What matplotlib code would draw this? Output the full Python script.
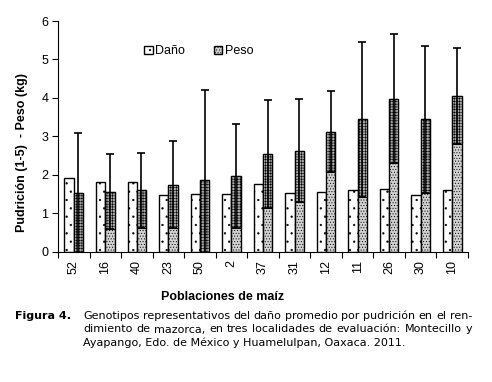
import matplotlib
matplotlib.use("Agg")
import matplotlib.pyplot as plt
import numpy as np

# -- Data
poblaciones = ["52", "16", "40", "23", "50", "2", "37", "31", "12", "11", "26", "30", "10"]
dano = [1.91, 1.82, 1.82, 1.47, 1.50, 1.49, 1.77, 1.53, 1.56, 1.59, 1.62, 1.47, 1.59]
peso = [1.53, 1.56, 1.59, 1.74, 1.87, 1.97, 2.53, 2.62, 3.12, 3.44, 3.98, 3.44, 4.06]
peso_err = [1.56, 0.98, 0.98, 1.14, 2.33, 1.36, 1.41, 1.34, 1.06, 2.01, 1.67, 1.91, 1.25]

caption_label = "Figura 4."
caption_lines = [
    "Genotipos representativos del daño promedio por pudrición en el ren-",
    "dimiento de mazorca, en tres localidades de evaluación: Montecillo y",
    "Ayapango, Edo. de México y Huamelulpan, Oaxaca. 2011.",
]

plt.rcParams["font.family"] = ["Liberation Sans", "DejaVu Sans"]
plt.rcParams["hatch.linewidth"] = 0.4

fig = plt.figure(figsize=(4.92, 3.82), dpi=100)
ax = fig.add_axes([58 / 492, 1 - 251.5 / 382, 410 / 492, 230.5 / 382])

x = np.arange(len(poblaciones))
w = 0.295
peso_arr = np.array(peso)
err_arr = np.array(peso_err)

b1 = ax.bar(x - w / 2, dano, w, color="white", edgecolor="black",
            hatch="..", linewidth=1.0, label="Daño", zorder=2)
b2 = ax.bar(x + w / 2, peso, w, color="#d2d2d2", edgecolor="black",
            hatch="......", linewidth=1.0, label="Peso", zorder=2)
# darker stipple between lower error limit and bar top
low = np.clip(peso_arr - err_arr, 0, None)
ax.bar(x + w / 2, peso_arr - low, w, bottom=low, color="#a8a8a8",
       edgecolor="black", hatch="++++++", linewidth=0.8, zorder=3)
ax.errorbar(x + w / 2, peso, yerr=peso_err, fmt="none", ecolor="black",
            elinewidth=1.2, capsize=3, capthick=1.2, zorder=4)

ax.set_xlim(-0.5, len(poblaciones) - 0.5)
ax.set_ylim(0, 6)
ax.set_yticks(range(7))
ax.spines["top"].set_visible(False)
ax.spines["right"].set_visible(False)
ax.tick_params(axis="y", direction="out", length=4, labelsize=9, pad=3)

ax.set_xticks(np.arange(len(poblaciones) + 1) - 0.5)
ax.set_xticklabels([])
ax.tick_params(axis="x", which="major", direction="out", length=4)
ax.set_xticks(x, minor=True)
ax.set_xticklabels(poblaciones, minor=True, rotation=90, fontsize=9)
ax.tick_params(axis="x", which="minor", length=0, pad=6)

ax.legend(handles=[b1, b2], ncol=2, frameon=False, fontsize=9,
          handlelength=0.7, handleheight=0.7, handletextpad=0.2,
          columnspacing=2.3, loc="center", bbox_to_anchor=(0.343, 0.868))

fig.text(22 / 492, 1 - 152 / 382, "Pudrición (1-5)  - Peso (kg)",
         rotation=90, ha="center", va="center", fontsize=9, fontweight="bold")
fig.text(223 / 492, 1 - 297 / 382, "Poblaciones de maíz",
         ha="center", va="center", fontsize=9, fontweight="bold")

# -- Caption (justified lines)
cap_font = dict(family="DejaVu Sans", fontsize=8.0)
fig.text(15 / 492, 1 - 316 / 382, caption_label, ha="left", va="center",
         fontweight="bold", **cap_font)
renderer = fig.canvas.get_renderer()
x0, x1 = 83, 472
for i, line in enumerate(caption_lines):
    y = 1 - (316 + 13.5 * i) / 382
    words = line.split(" ")
    if i == len(caption_lines) - 1:
        fig.text(x0 / 492, y, line, ha="left", va="center", **cap_font)
        continue
    texts = [fig.text(0, y, wd, ha="left", va="center", **cap_font) for wd in words]
    widths = [t.get_window_extent(renderer).width for t in texts]
    gap = (x1 - x0 - sum(widths)) / (len(words) - 1)
    pos = x0
    for t, wd in zip(texts, widths):
        t.set_x(pos / 492)
        pos += wd + gap

fig.savefig("out.png", dpi=100)
